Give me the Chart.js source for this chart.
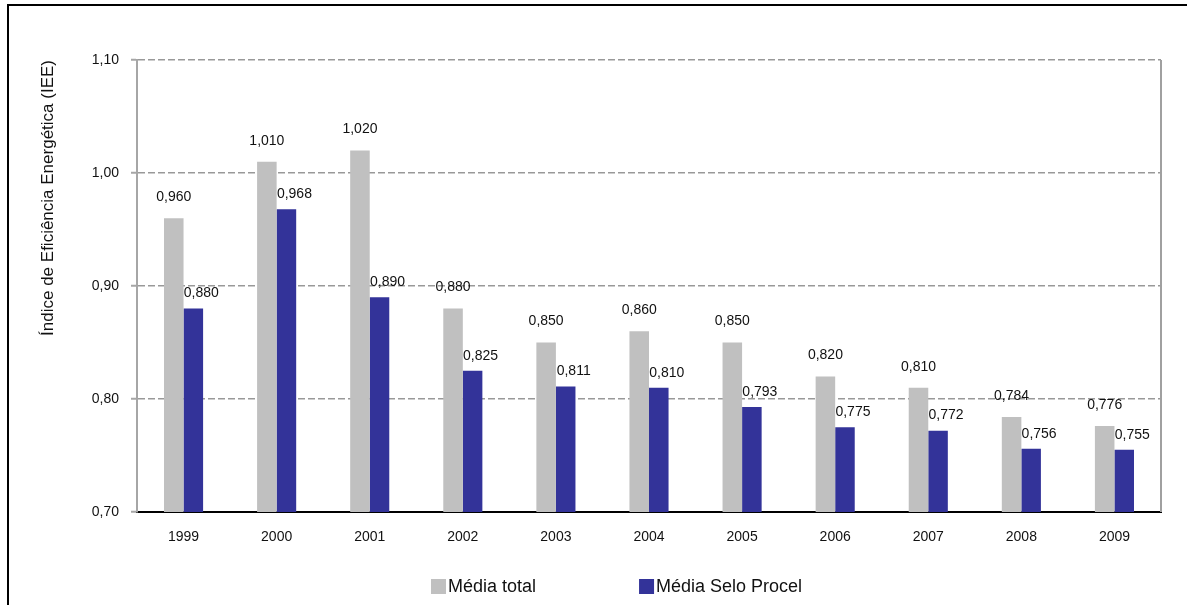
<!DOCTYPE html>
<html>
<head>
<meta charset="utf-8">
<script src="https://cdn.jsdelivr.net/npm/chart.js@4/dist/chart.umd.min.js"></script>
<style>
  html, body { margin: 0; padding: 0; background: #fff; }
  #wrap { width: 1187px; height: 605px; }
</style>
</head>
<body>
<div id="wrap"><canvas id="c" width="1187" height="605"></canvas></div>
<script>
const years = ['1999','2000','2001','2002','2003','2004','2005','2006','2007','2008','2009'];
const mediaTotal = [0.960, 1.010, 1.020, 0.880, 0.850, 0.860, 0.850, 0.820, 0.810, 0.784, 0.776];
const mediaProcel = [0.880, 0.968, 0.890, 0.825, 0.811, 0.810, 0.793, 0.775, 0.772, 0.756, 0.755];
const seriesNames = ['Média total', 'Média Selo Procel'];
const yTitle = 'Índice de Eficiência Energética (IEE)';
const yMin = 0.70, yMax = 1.10, yStep = 0.10;

const FONT = "'Liberation Sans', Arial, sans-serif";
const fmt = (v, d) => v.toFixed(d).replace('.', ',');

const framePlugin = {
  id: 'frame',
  beforeDraw(chart) {
    const ctx = chart.ctx;
    ctx.save();
    ctx.strokeStyle = '#000';
    ctx.lineWidth = 2;
    ctx.beginPath();
    ctx.moveTo(8, 605);
    ctx.lineTo(8, 5);
    ctx.lineTo(1187, 5);
    ctx.stroke();
    ctx.restore();
  },
  afterDraw(chart) {
    const ctx = chart.ctx;
    const a = chart.chartArea;
    ctx.save();
    ctx.strokeStyle = '#a0a0a0';
    ctx.lineWidth = 2;
    ctx.beginPath();
    ctx.moveTo(a.right, a.top);
    ctx.lineTo(a.right, a.bottom);
    ctx.stroke();
    // custom legend
    const items = chart.data.datasets;
    let x = 431;
    const y = 586;
    ctx.font = '18px ' + FONT;
    ctx.textBaseline = 'middle';
    ctx.textAlign = 'left';
    items.forEach((ds, i) => {
      ctx.fillStyle = ds.backgroundColor;
      ctx.fillRect(x, y - 7, 15, 15);
      ctx.fillStyle = '#111';
      ctx.fillText(ds.label, x + 17, y + 1);
      x += 17 + ctx.measureText(ds.label).width + 103;
    });
    ctx.restore();
  }
};

const labelPlugin = {
  id: 'valueLabels',
  afterDatasetsDraw(chart) {
    const ctx = chart.ctx;
    ctx.save();
    ctx.font = '14px ' + FONT;
    ctx.fillStyle = '#111';
    ctx.textAlign = 'center';
    ctx.textBaseline = 'middle';
    chart.data.datasets.forEach((ds, di) => {
      const meta = chart.getDatasetMeta(di);
      meta.data.forEach((el, i) => {
        const dx = di === 1 ? 8 : 0;
        const dy = di === 1 ? 15 : 21;
        ctx.fillText(fmt(ds.data[i], 3), el.x + dx, el.y - dy);
      });
    });
    ctx.restore();
  }
};

new Chart(document.getElementById('c'), {
  type: 'bar',
  data: {
    labels: years,
    datasets: [
      { label: seriesNames[0], data: mediaTotal, backgroundColor: '#C0C0C0', borderColor: '#C8C8C8', borderWidth: 0 },
      { label: seriesNames[1], data: mediaProcel, backgroundColor: '#333399', borderColor: '#4444aa', borderWidth: 0 }
    ]
  },
  options: {
    responsive: false,
    animation: false,
    devicePixelRatio: 1,
    layout: { padding: { top: 60, right: 26, left: 0, bottom: 0 } },
    datasets: { bar: { categoryPercentage: 0.42, barPercentage: 1.0 } },
    plugins: {
      legend: { display: false },
      tooltip: { enabled: false }
    },
    scales: {
      x: {
        grid: { display: false, drawTicks: false },
        border: { color: '#000', width: 2 },
        ticks: { color: '#111', font: { family: FONT, size: 14 }, padding: 17, maxRotation: 0 },
        afterFit(s) { s.height = 93; }
      },
      y: {
        min: yMin, max: yMax,
        border: { color: '#a6a6a6', width: 2, dash: [7, 3] },
        grid: {
          color: (c) => (c.tick && Math.abs(c.tick.value - yMin) < 1e-6) ? 'rgba(0,0,0,0)' : '#999',
          lineWidth: 1.5,
          tickColor: '#a6a6a6',
          tickLength: 6,
          tickWidth: 2
        },
        ticks: {
          stepSize: yStep,
          color: '#111',
          font: { family: FONT, size: 14 },
          padding: 12,
          callback: (v) => fmt(v, 2)
        },
        title: {
          display: true,
          text: yTitle,
          color: '#111',
          align: 'end',
          font: { family: FONT, size: 17 },
          padding: { top: 38, bottom: 0 }
        },
        afterFit(s) { s.width = 137; }
      }
    }
  },
  plugins: [framePlugin, labelPlugin]
});
</script>
</body>
</html>
